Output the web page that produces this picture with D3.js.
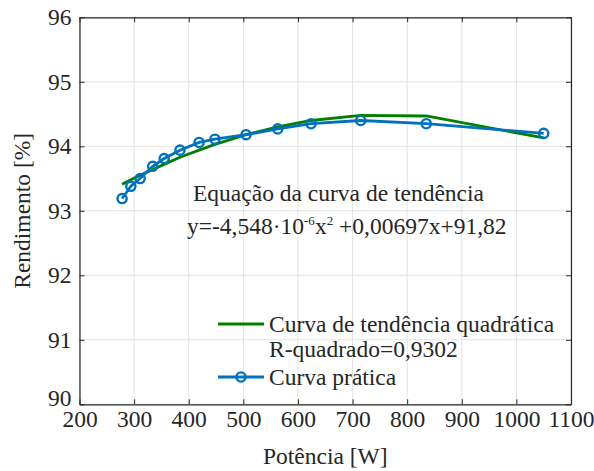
<!DOCTYPE html>
<html><head><meta charset="utf-8">
<script src="https://cdn.jsdelivr.net/npm/d3@7"></script>
<style>body{margin:0;background:#fff}svg{display:block}text{font-family:"Liberation Serif","Times New Roman",serif;fill:#262626}</style>
</head><body><svg id="c" width="594" height="471"></svg>
<script>
const potencia = [278, 294, 311, 334, 355, 384, 419, 448, 505, 563, 624, 715, 835, 1050];
const rendimentoPratico = [93.19, 93.38, 93.50, 93.69, 93.81, 93.94, 94.06, 94.11, 94.18, 94.27, 94.35, 94.40, 94.35, 94.20];
const rendimentoTendencia = [93.41, 93.48, 93.55, 93.64, 93.72, 93.83, 93.94, 94.03, 94.18, 94.30, 94.40, 94.48, 94.47, 94.13];
const xTicks = [200, 300, 400, 500, 600, 700, 800, 900, 1000, 1100];
const yTicks = [90, 91, 92, 93, 94, 95, 96];
const legendLabels = ["Curva de tendência quadrática", "R-quadrado=0,9302", "Curva prática"];

const svg = d3.select("#c");
const L = 79.5, R = 571, T = 17.3, B = 404.3;
const x = d3.scaleLinear().domain([200, 1100]).range([L, R]);
const y = d3.scaleLinear().domain([90, 96]).range([B, T]);
const axisCol = "#262626", fs = 23.5;
const serif = '"Liberation Serif","Times New Roman",serif';

// grid
const g = svg.append("g");
g.selectAll(".gx").data(xTicks).join("line").attr("x1", d => x(d)).attr("x2", d => x(d))
  .attr("y1", T).attr("y2", B).attr("stroke", "#e3e3e3").attr("stroke-width", 1);
g.selectAll(".gy").data(yTicks).join("line").attr("y1", d => y(d)).attr("y2", d => y(d))
  .attr("x1", L).attr("x2", R).attr("stroke", "#e3e3e3").attr("stroke-width", 1);

// axes
const fmt = d3.format("d");
const axB = svg.append("g").attr("transform", `translate(0,${B})`)
  .call(d3.axisBottom(x).tickValues(xTicks).tickFormat(fmt).tickSizeInner(-5).tickSizeOuter(0).tickPadding(9));
const axL = svg.append("g").attr("transform", `translate(${L},0)`)
  .call(d3.axisLeft(y).tickValues(yTicks).tickFormat(fmt).tickSizeInner(-5).tickSizeOuter(0).tickPadding(8));
const axT = svg.append("g").attr("transform", `translate(0,${T})`)
  .call(d3.axisTop(x).tickValues(xTicks).tickSizeInner(-5).tickSizeOuter(0).tickFormat(""));
const axR = svg.append("g").attr("transform", `translate(${R},0)`)
  .call(d3.axisRight(y).tickValues(yTicks).tickSizeInner(-5).tickSizeOuter(0).tickFormat(""));
[axB, axL, axT, axR].forEach(a => {
  a.attr("font-family", serif).attr("font-size", fs);
  a.select(".domain").attr("stroke", axisCol).attr("stroke-width", 1.2);
  a.selectAll(".tick line").attr("stroke", axisCol);
  a.selectAll(".tick text").style("font-family", serif).style("font-size", fs + "px").attr("fill", axisCol);
});
axB.selectAll(".tick text").attr("dy", "0.6em");
axL.selectAll(".tick text").filter(d => d === 90).attr("dy", "0.05em");

// labels
svg.append("text").attr("x", (L + R) / 2).attr("y", 464).attr("text-anchor", "middle")
  .style("font-size", fs + "px").text("Potência [W]");
svg.append("text").attr("transform", `translate(30,${(T + B) / 2}) rotate(-90)`).attr("text-anchor", "middle")
  .style("font-size", fs + "px").text("Rendimento [%]");

// lines
const lineGen = d3.line().x(d => x(d[0])).y(d => y(d[1]));
const trend = potencia.map((p, i) => [p, rendimentoTendencia[i]]);
const prat = potencia.map((p, i) => [p, rendimentoPratico[i]]);
svg.append("path").datum(trend).attr("d", lineGen).attr("fill", "none")
  .attr("stroke", "#008000").attr("stroke-width", 2.8);
svg.append("path").datum(prat).attr("d", lineGen).attr("fill", "none")
  .attr("stroke", "#0072BD").attr("stroke-width", 2.8);
svg.selectAll(".mk").data(prat).join("circle").attr("cx", d => x(d[0])).attr("cy", d => y(d[1]))
  .attr("r", 4.6).attr("fill", "none").attr("stroke", "#0072BD").attr("stroke-width", 2.4);

// equation
svg.append("text").attr("x", 193).attr("y", 201).style("font-size", fs + "px").text("Equação da curva de tendência");
const eq2 = svg.append("text").attr("x", 187).attr("y", 234).style("font-size", fs + "px");
eq2.append("tspan").text("y=-4,548·10");
eq2.append("tspan").attr("dy", -9).style("font-size", "13px").text("-6");
eq2.append("tspan").attr("dy", 9).text("x");
eq2.append("tspan").attr("dy", -9).style("font-size", "13px").text("2");
eq2.append("tspan").attr("dy", 9).text(" +0,00697x+91,82");

// legend
svg.append("line").attr("x1", 218).attr("x2", 264).attr("y1", 324).attr("y2", 324)
  .attr("stroke", "#008000").attr("stroke-width", 2.8);
svg.append("line").attr("x1", 218).attr("x2", 264).attr("y1", 377).attr("y2", 377)
  .attr("stroke", "#0072BD").attr("stroke-width", 2.8);
svg.append("circle").attr("cx", 241).attr("cy", 377).attr("r", 4.6).attr("fill", "none")
  .attr("stroke", "#0072BD").attr("stroke-width", 2.4);
const ly = [332, 357, 385];
legendLabels.forEach((t, i) => svg.append("text").attr("x", 269).attr("y", ly[i]).style("font-size", fs + "px").text(t));
</script></body></html>
